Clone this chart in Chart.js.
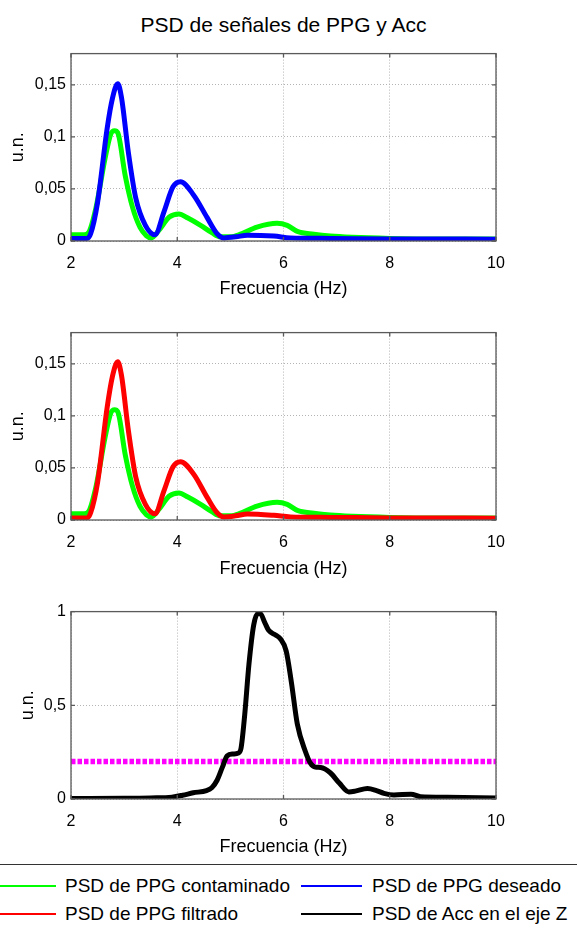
<!DOCTYPE html>
<html>
<head>
<meta charset="utf-8">
<script src="https://cdn.jsdelivr.net/npm/chart.js@4.4.1/dist/chart.umd.min.js"></script>
<style>
  body { margin: 0; background: #fff; width: 577px; height: 931px; position: relative; overflow: hidden;
         font-family: "Liberation Sans", Arial, Helvetica, sans-serif; }
  canvas { position: absolute; left: 0; }
  #title { position: absolute; left: 71px; width: 425px; top: 12px; text-align: center; font-size: 21px; line-height: 26px; }
  #legend { position: absolute; left: 0; top: 864px; width: 577px; height: 67px; border-top: 1.5px solid #333; }
  .item { position: absolute; font-size: 19px; line-height: 22px; white-space: nowrap; }
  .swatch { position: absolute; height: 2px; }
</style>
</head>
<body>
<div id="title">PSD de señales de PPG y Acc</div>
<canvas id="c1" width="577" height="264" style="top:39px"></canvas>
<canvas id="c2" width="577" height="265" style="top:318px"></canvas>
<canvas id="c3" width="577" height="264" style="top:597px"></canvas>
<div id="legend"></div>
<script>
// ---- data ----
const xTicks = [2, 4, 6, 8, 10];
const yTicksPPG = [0, 0.05, 0.1, 0.15];
const yTicksAcc = [0, 0.5, 1];

const freqContaminado = [2, 2.25, 2.33, 2.47, 2.64, 2.75, 2.82, 2.88, 3.02, 3.16, 3.3, 3.42, 3.51, 3.65, 3.85, 4.03, 4.2, 4.44, 4.65, 4.81, 5.0, 5.19, 5.5, 5.88, 6.07, 6.26, 6.57, 6.88, 7.3, 8, 9, 10];
const psdContaminado = [0.006, 0.006, 0.008, 0.032, 0.079, 0.103, 0.106, 0.104, 0.063, 0.032, 0.013, 0.005, 0.003, 0.010, 0.023, 0.026, 0.022, 0.015, 0.008, 0.004, 0.004, 0.0065, 0.0133, 0.017, 0.015, 0.0093, 0.0065, 0.0047, 0.0035, 0.0025, 0.002, 0.002];

const freqDeseado = [2, 2.3, 2.37, 2.5, 2.68, 2.78, 2.88, 2.95, 3.08, 3.22, 3.4, 3.58, 3.75, 3.92, 4.06, 4.31, 4.56, 4.75, 4.88, 5.1, 5.32, 5.82, 6.13, 6.88, 8, 10];
const psdDeseado = [0.0025, 0.0025, 0.007, 0.037, 0.108, 0.137, 0.151, 0.138, 0.085, 0.041, 0.015, 0.006, 0.028, 0.052, 0.057, 0.044, 0.0227, 0.007, 0.003, 0.004, 0.0056, 0.0047, 0.003, 0.0025, 0.002, 0.0018];

const freqFiltrado = [2, 2.3, 2.37, 2.5, 2.68, 2.78, 2.88, 2.95, 3.08, 3.22, 3.4, 3.58, 3.75, 3.92, 4.06, 4.31, 4.56, 4.75, 4.88, 5.1, 5.32, 5.82, 6.13, 6.88, 8, 10];
const psdFiltrado = [0.002, 0.002, 0.007, 0.036, 0.108, 0.138, 0.152, 0.139, 0.086, 0.041, 0.015, 0.006, 0.028, 0.051, 0.056, 0.044, 0.022, 0.007, 0.003, 0.004, 0.0058, 0.0045, 0.003, 0.0025, 0.002, 0.0018];

const freqAcc = [2, 3, 3.5, 3.9, 4.1, 4.3, 4.55, 4.65, 4.75, 4.85, 4.94, 5.05, 5.15, 5.2, 5.27, 5.35, 5.44, 5.52, 5.56, 5.65, 5.72, 5.85, 5.94, 6.05, 6.15, 6.26, 6.41, 6.51, 6.6, 6.7, 6.88, 7.05, 7.23, 7.35, 7.58, 7.75, 7.89, 8.08, 8.4, 8.58, 9.08, 10];
const psdAcc = [0.003, 0.004, 0.006, 0.01, 0.02, 0.033, 0.045, 0.06, 0.1, 0.17, 0.23, 0.24, 0.245, 0.27, 0.45, 0.72, 0.93, 0.99, 0.99, 0.94, 0.9, 0.875, 0.855, 0.79, 0.62, 0.4, 0.255, 0.19, 0.17, 0.168, 0.14, 0.085, 0.038, 0.042, 0.056, 0.045, 0.03, 0.021, 0.026, 0.012, 0.009, 0.006];

const umbralFreq = [2, 10];
const umbralAcc = [0.2, 0.2];

const legendLabels = ['PSD de PPG contaminado', 'PSD de PPG deseado', 'PSD de PPG filtrado', 'PSD de Acc en el eje Z'];
const legendColors = ['#00ff00', '#0000ff', '#ff0000', '#000000'];

// ---- helpers ----
const pts = (xs, ys) => xs.map((x, i) => ({ x: x, y: ys[i] }));
const comma = v => String(v).replace('.', ',');

const line = (label, xs, ys, color) => ({
  label: label,
  data: pts(xs, ys),
  borderColor: color,
  borderWidth: 5,
  pointRadius: 0,
  cubicInterpolationMode: 'monotone',
  clip: 0
});

// MATLAB-like box with inward tick marks
const boxPlugin = {
  id: 'matlabBox',
  afterDraw: (chart) => {
    const { ctx, chartArea: a, scales } = chart;
    ctx.save();
    ctx.strokeStyle = '#5a5a5a';
    ctx.lineWidth = 1.3;
    ctx.strokeRect(a.left, a.top, a.right - a.left, a.bottom - a.top);
    ctx.beginPath();
    scales.x.ticks.forEach(t => {
      const px = scales.x.getPixelForValue(t.value);
      ctx.moveTo(px, a.bottom); ctx.lineTo(px, a.bottom - 4);
      ctx.moveTo(px, a.top); ctx.lineTo(px, a.top + 4);
    });
    scales.y.ticks.forEach(t => {
      const py = scales.y.getPixelForValue(t.value);
      ctx.moveTo(a.left, py); ctx.lineTo(a.left + 4, py);
      ctx.moveTo(a.right, py); ctx.lineTo(a.right - 4, py);
    });
    ctx.stroke();
    ctx.restore();
  }
};

function makeChart(id, datasets, yMax, yTicks, yTitlePad, xHeight) {
  return new Chart(document.getElementById(id), {
    type: 'line',
    data: { datasets: datasets },
    options: {
      responsive: false,
      animation: false,
      devicePixelRatio: 1,
      layout: { padding: { top: 10, right: 81, bottom: 0, left: 0 } },
      plugins: { legend: { display: false }, tooltip: { enabled: false } },
      scales: {
        x: {
          type: 'linear',
          min: 2,
          max: 10,
          afterBuildTicks: s => { s.ticks = xTicks.map(v => ({ value: v })); },
          afterFit: s => { s.height = xHeight; },
          grid: { color: '#b4b4b4', lineWidth: 1, drawTicks: false },
          border: { display: false, dash: [1, 2] },
          ticks: { color: '#000', padding: 12.5, font: { size: 16, family: 'Liberation Sans' }, maxRotation: 0 },
          title: { display: true, text: 'Frecuencia (Hz)', color: '#000', font: { size: 18, family: 'Liberation Sans' }, padding: { top: 0, bottom: 3 } }
        },
        y: {
          min: 0,
          max: yMax,
          afterBuildTicks: s => { s.ticks = yTicks.map(v => ({ value: v })); },
          afterFit: s => { s.width = 71; },
          grid: { color: '#b4b4b4', lineWidth: 1, drawTicks: false },
          border: { display: false, dash: [1, 2] },
          ticks: { color: '#000', padding: 5, font: { size: 16, family: 'Liberation Sans' }, callback: v => comma(v) },
          title: { display: true, text: 'u.n.', color: '#000', font: { size: 18, family: 'Liberation Sans' }, padding: { top: yTitlePad, bottom: 0 } }
        }
      }
    },
    plugins: [boxPlugin]
  });
}

makeChart('c1', [
  line(legendLabels[1], freqDeseado, psdDeseado, legendColors[1]),
  line(legendLabels[0], freqContaminado, psdContaminado, legendColors[0])
], 0.18, yTicksPPG, 7, 62);

makeChart('c2', [
  line(legendLabels[2], freqFiltrado, psdFiltrado, legendColors[2]),
  line(legendLabels[0], freqContaminado, psdContaminado, legendColors[0])
], 0.18, yTicksPPG, 7, 63);

const umbral = line('umbral', umbralFreq, umbralAcc, '#ff00ff');
umbral.borderWidth = 5.5;
umbral.borderDash = [4.5, 2];
umbral.borderCapStyle = 'butt';
makeChart('c3', [
  line(legendLabels[3], freqAcc, psdAcc, legendColors[3]),
  umbral
], 1, yTicksAcc, 17.5, 62);

// ---- legend ----
const legend = document.getElementById('legend');
const colLine = [[0, 56], [301, 362]];
const colText = [65, 372];
const rowY = [21, 49];
const order = [0, 1, 2, 3];
order.forEach((k, i) => {
  const col = i % 2, row = Math.floor(i / 2);
  const sw = document.createElement('div');
  sw.className = 'swatch';
  sw.style.left = colLine[col][0] + 'px';
  sw.style.width = (colLine[col][1] - colLine[col][0]) + 'px';
  sw.style.top = (rowY[row] - 1) + 'px';
  sw.style.background = legendColors[k];
  legend.appendChild(sw);
  const tx = document.createElement('div');
  tx.className = 'item';
  tx.style.left = colText[col] + 'px';
  tx.style.top = (rowY[row] - 11) + 'px';
  tx.textContent = legendLabels[k];
  legend.appendChild(tx);
});
</script>
</body>
</html>
